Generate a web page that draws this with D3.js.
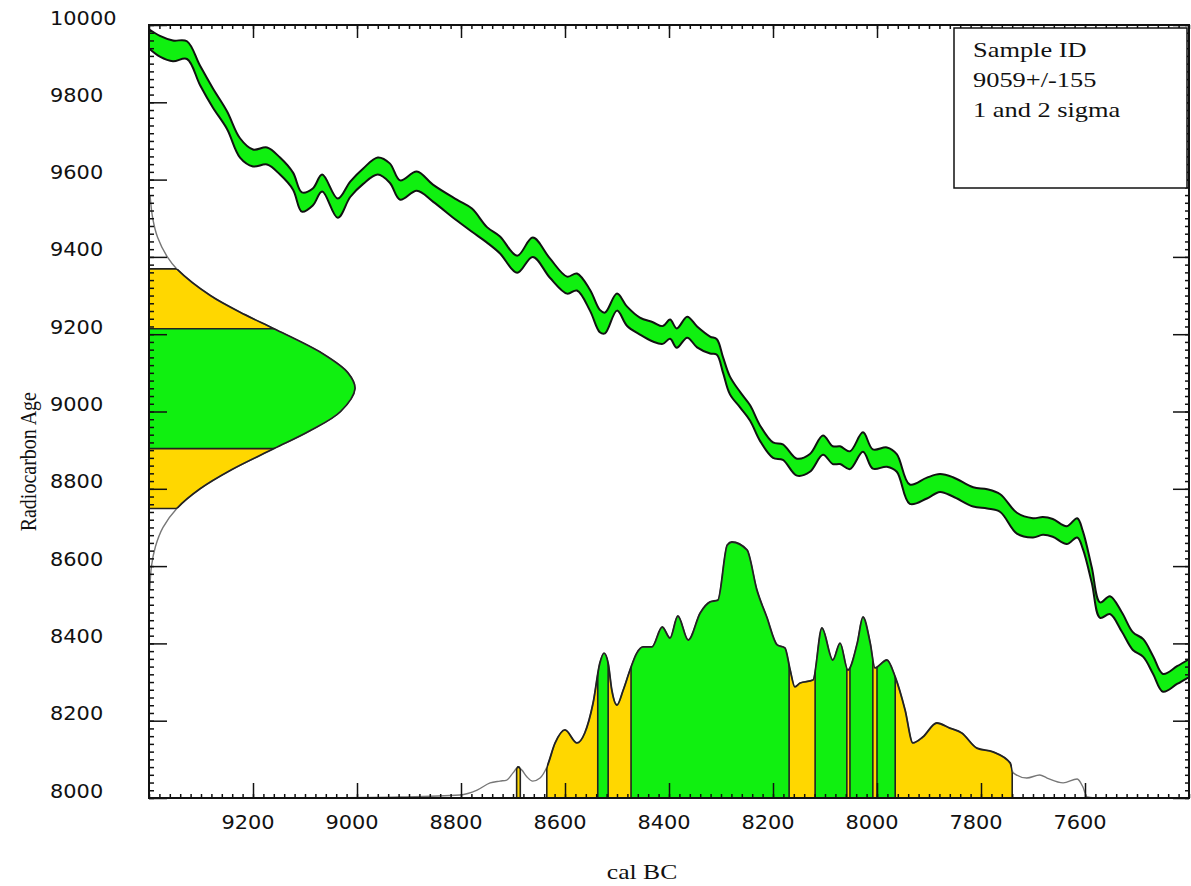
<!DOCTYPE html>
<html>
<head>
<meta charset="utf-8">
<script src="https://cdn.jsdelivr.net/npm/d3@7"></script>
<style>
  body { margin: 0; background: #fff; }
  .tick text { font-family: "DejaVu Sans", sans-serif; font-size: 19px; fill: #111; }
  .serif { font-family: "Liberation Serif", "Times New Roman", serif; fill: #111; }
</style>
</head>
<body>
<div class="chart"></div>
<script>
// calibration curve: cal BC, radiocarbon age, 1 sigma
const curveCal = [9400, 9379, 9354, 9327, 9302, 9277, 9250, 9225, 9200, 9173, 9148, 9123, 9106, 9085, 9067, 9037, 9013, 8988, 8960, 8937,
  8917, 8885, 8854, 8808, 8779, 8750, 8725, 8692, 8662, 8629, 8596, 8577, 8552, 8533, 8523, 8500, 8481, 8456, 8431, 8412,
  8398, 8385, 8365, 8346, 8321, 8308, 8296, 8283, 8263, 8244, 8225, 8200, 8181, 8154, 8129, 8104, 8085, 8071, 8052, 8027,
  8008, 7981, 7962, 7937, 7904, 7879, 7854, 7815, 7788, 7763, 7731, 7700, 7681, 7662, 7635, 7615, 7604, 7587, 7571, 7552,
  7529, 7508, 7488, 7469, 7450, 7423, 7400];
const curveAge = [9964, 9945, 9933, 9935, 9870, 9811, 9754, 9682, 9656, 9661, 9635, 9596, 9542, 9555, 9591, 9526, 9575, 9609, 9635, 9617,
  9573, 9596, 9565, 9521, 9495, 9457, 9431, 9381, 9425, 9371, 9327, 9335, 9288, 9234, 9229, 9283, 9247, 9221, 9206, 9198,
  9213, 9190, 9218, 9193, 9172, 9167, 9120, 9068, 9030, 8996, 8944, 8900, 8895, 8856, 8867, 8913, 8887, 8887, 8874, 8921,
  8877, 8882, 8867, 8786, 8802, 8815, 8805, 8779, 8774, 8763, 8711, 8699, 8704, 8699, 8680, 8699, 8667, 8577, 8486, 8499,
  8455, 8406, 8388, 8344, 8298, 8318, 8336];
const curveSig = [25, 27, 27, 23, 25, 25, 23, 25, 22, 22, 22, 22, 25, 22, 22, 25, 20, 20, 22, 25,
  25, 25, 22, 27, 30, 20, 22, 22, 25, 25, 22, 22, 27, 29, 27, 22, 25, 22, 25, 23,
  25, 25, 27, 27, 22, 20, 20, 23, 20, 20, 20, 20, 20, 22, 23, 25, 23, 23, 23, 25,
  25, 25, 23, 25, 27, 23, 25, 25, 25, 23, 27, 25, 23, 23, 23, 25, 23, 20, 20, 23,
  25, 23, 23, 23, 23, 23, 23];

// measured date 9059 +/- 155, relative density by radiocarbon age
const dateAges = [8540, 8600, 8650, 8700, 8749, 8800, 8850, 8904, 8950, 9000, 9059, 9100, 9150, 9214, 9250, 9300, 9369, 9400, 9450, 9500, 9560];
const dateDens = [0.004, 0.012, 0.031, 0.068, 0.135, 0.248, 0.403, 0.607, 0.781, 0.93, 1.0, 0.966, 0.842, 0.607, 0.468, 0.298, 0.135, 0.089, 0.042, 0.018, 0.005];
const dateOne = [[9214, 8904]];
const dateTwo = [[9369, 8749]];

// calibrated probability, relative
const calYears = [9110, 8917, 8802, 8769, 8744, 8725, 8712, 8700, 8690, 8683, 8673, 8662, 8648, 8635, 8619, 8600, 8577, 8562, 8546, 8533,
  8525, 8517, 8510, 8500, 8488, 8475, 8462, 8450, 8433, 8413, 8398, 8383, 8363, 8340, 8321, 8306, 8288, 8279, 8250, 8231,
  8212, 8192, 8177, 8167, 8158, 8148, 8123, 8106, 8085, 8071, 8056, 8038, 8027, 8013, 8004, 7981, 7965, 7946, 7931, 7912,
  7885, 7860, 7837, 7808, 7777, 7744, 7738, 7712, 7687, 7673, 7642, 7615, 7604, 7596, 7581];
const calProb = [0, 0.004, 0.012, 0.031, 0.059, 0.066, 0.070, 0.098, 0.121, 0.109, 0.082, 0.066, 0.078, 0.12, 0.215, 0.266, 0.215, 0.254, 0.371, 0.527,
  0.566, 0.527, 0.422, 0.363, 0.422, 0.5, 0.566, 0.59, 0.59, 0.668, 0.625, 0.711, 0.617, 0.723, 0.766, 0.773, 0.988, 1.0, 0.969, 0.813,
  0.707, 0.598, 0.586, 0.5, 0.434, 0.449, 0.461, 0.664, 0.539, 0.605, 0.5, 0.605, 0.707, 0.605, 0.508, 0.539, 0.473, 0.344, 0.215, 0.238,
  0.293, 0.273, 0.254, 0.195, 0.18, 0.137, 0.098, 0.078, 0.09, 0.078, 0.059, 0.074, 0.043, 0.004, 0];
const oneSigma = [[8537, 8517], [8473, 8169], [8119, 8058], [8052, 8008], [8000, 7965]];
const twoSigma = [[8693, 8686], [8635, 7740]];

const xTicks = [9200, 9000, 8800, 8600, 8400, 8200, 8000, 7800, 7600];
const yTicks = [8000, 8200, 8400, 8600, 8800, 9000, 9200, 9400, 9600, 9800, 10000];
const legendLines = ["Sample ID", "9059+/-155", "1 and 2 sigma"];

const GREEN = "#10f010", YELLOW = "#ffd700";

// svg with margin convention
const margin = { top: 25, right: 2, bottom: 88, left: 149 };
const width = 1191 - margin.left - margin.right,
    height = 886 - margin.top - margin.bottom;

const root = d3.select(".chart").append("svg")
    .attr("width", 1191)
    .attr("height", 886);
const svg = root.append("g")
    .attr("transform", `translate(${margin.left}, ${margin.top})`);
const defs = root.append("defs");

const x = d3.scaleLinear().domain([9400, 7400]).range([0, width]);
const y = d3.scaleLinear().domain([8000, 10000]).range([height, 0]);
const gx = d3.scaleLinear().domain([0, 1]).range([0, 206]);          // date density
const py = d3.scaleLinear().domain([0, 1]).range([height, height - 256]); // calibrated prob

// CALIBRATION CURVE -------------------------------------
const band = curveCal.map((c, i) => ({ cal: c, age: curveAge[i], sig: curveSig[i] }));
svg.append("path")
    .datum(band)
    .attr("d", d3.area()
        .x(d => x(d.cal))
        .y0(d => y(d.age - d.sig))
        .y1(d => y(d.age + d.sig))
        .curve(d3.curveCatmullRom))
    .attr("fill", GREEN)
    .attr("stroke", "#111")
    .attr("stroke-width", 2);

// MEASURED DATE (on y axis) -----------------------------
const dens = dateAges.map((a, i) => ({ age: a, p: dateDens[i] }));
const densArea = d3.area()
    .y(d => y(d.age))
    .x0(gx(0))
    .x1(d => gx(d.p))
    .curve(d3.curveCatmullRom);
const densLine = d3.line()
    .y(d => y(d.age))
    .x(d => gx(d.p))
    .curve(d3.curveCatmullRom);

defs.append("clipPath").attr("id", "clip-dens")
    .append("path").attr("d", densArea(dens));

function hClip(id, ranges) {
    const cp = defs.append("clipPath").attr("id", id);
    ranges.forEach(r => cp.append("rect")
        .attr("x", 0).attr("width", width)
        .attr("y", y(r[0])).attr("height", y(r[1]) - y(r[0])));
}
hClip("clip-d2", dateTwo);
hClip("clip-d1", dateOne);

svg.append("path").attr("d", densArea(dens)).attr("fill", YELLOW).attr("clip-path", "url(#clip-d2)");
svg.append("path").attr("d", densArea(dens)).attr("fill", GREEN).attr("clip-path", "url(#clip-d1)");
svg.append("path").attr("d", densLine(dens)).attr("fill", "none").attr("stroke", "#777").attr("stroke-width", 1.4);
svg.append("path").attr("d", densLine(dens)).attr("fill", "none").attr("stroke", "#222").attr("stroke-width", 1.7)
    .attr("clip-path", "url(#clip-d2)");
svg.append("g").attr("clip-path", "url(#clip-dens)")
    .selectAll("line")
    .data(dateOne.concat(dateTwo).flat())
    .join("line")
    .attr("x1", 0).attr("x2", width)
    .attr("y1", d => y(d)).attr("y2", d => y(d))
    .attr("stroke", "#222").attr("stroke-width", 1.6);

// CALIBRATED DISTRIBUTION (on x axis) -------------------
const prob = calYears.map((c, i) => ({ cal: c, p: calProb[i] }));
const probArea = d3.area()
    .x(d => x(d.cal))
    .y0(py(0))
    .y1(d => py(d.p))
    .curve(d3.curveMonotoneX);
const probLine = d3.line()
    .x(d => x(d.cal))
    .y(d => py(d.p))
    .curve(d3.curveMonotoneX);

defs.append("clipPath").attr("id", "clip-prob")
    .append("path").attr("d", probArea(prob));

function vClip(id, ranges) {
    const cp = defs.append("clipPath").attr("id", id);
    ranges.forEach(r => cp.append("rect")
        .attr("y", 0).attr("height", height)
        .attr("x", x(r[0])).attr("width", x(r[1]) - x(r[0])));
}
vClip("clip-c2", twoSigma);
vClip("clip-c1", oneSigma);

svg.append("path").attr("d", probArea(prob)).attr("fill", YELLOW).attr("clip-path", "url(#clip-c2)");
svg.append("path").attr("d", probArea(prob)).attr("fill", GREEN).attr("clip-path", "url(#clip-c1)");
svg.append("path").attr("d", probLine(prob)).attr("fill", "none").attr("stroke", "#777").attr("stroke-width", 1.4);
svg.append("path").attr("d", probLine(prob)).attr("fill", "none").attr("stroke", "#222").attr("stroke-width", 1.8)
    .attr("clip-path", "url(#clip-c2)");
svg.append("g").attr("clip-path", "url(#clip-prob)")
    .selectAll("line")
    .data(oneSigma.concat(twoSigma).flat())
    .join("line")
    .attr("y1", 0).attr("y2", height)
    .attr("x1", d => x(d)).attr("x2", d => x(d))
    .attr("stroke", "#222").attr("stroke-width", 1.6);

// AXES ---------------------------------------------------
const minorX = d3.range(7400, 9401, 20);
const minorY = d3.range(8000, 10001, 20);

function axisGroup(axis, tx, ty) {
    const g = svg.append("g").attr("transform", `translate(${tx}, ${ty})`).call(axis);
    g.select(".domain").remove();
    g.selectAll(".tick line").attr("stroke", "#111").attr("stroke-width", 1.5);
    return g;
}

// bottom
axisGroup(d3.axisBottom(x).tickValues(minorX).tickSize(-4).tickFormat(""), 0, height);
const xAxis = axisGroup(d3.axisBottom(x).tickValues(xTicks).tickSize(-15).tickPadding(18).tickFormat(d3.format("d")), 0, height);
xAxis.selectAll("text").attr("x", -5).attr("transform", "scale(1.1,1)");
// top
axisGroup(d3.axisTop(x).tickValues(minorX).tickSize(-4).tickFormat(""), 0, 0);
axisGroup(d3.axisTop(x).tickValues(xTicks).tickSize(-13).tickFormat(""), 0, 0);
// left: labels are left aligned at x = 50
axisGroup(d3.axisLeft(y).tickValues(minorY).tickSize(-5).tickFormat(""), 0, 0);
const yAxis = axisGroup(d3.axisLeft(y).tickValues(yTicks).tickSize(-18).tickFormat(d3.format("d")), 0, 0);
yAxis.selectAll("text")
    .attr("text-anchor", "start")
    .attr("x", -90)
    .attr("dy", "-0.05em")
    .attr("transform", "scale(1.1,1)");
// right
axisGroup(d3.axisRight(y).tickValues(minorY).tickSize(-4).tickFormat(""), width, 0);
axisGroup(d3.axisRight(y).tickValues(yTicks).tickSize(-16).tickFormat(""), width, 0);

// frame
svg.append("rect")
    .attr("width", width).attr("height", height)
    .attr("fill", "none").attr("stroke", "#111").attr("stroke-width", 2);

// axis titles
svg.append("text")
    .attr("class", "serif")
    .attr("text-anchor", "middle")
    .attr("font-size", 21)
    .attr("transform", `translate(${x(8000) - 235}, ${height + 81}) scale(1.22,1)`)
    .text("cal BC");

svg.append("text")
    .attr("class", "serif")
    .attr("text-anchor", "middle")
    .attr("font-size", 20)
    .attr("transform", `translate(-113, ${y(9059) + 73}) rotate(-90) scale(1,1.2)`)
    .text("Radiocarbon Age");

// LEGEND ------------------------------------------------
const legend = svg.append("g").attr("transform", `translate(${width - 235}, 3)`);
legend.append("rect")
    .attr("width", 233).attr("height", 160)
    .attr("fill", "#fff").attr("stroke", "#111").attr("stroke-width", 1.5);
legend.selectAll("text")
    .data(legendLines)
    .join("text")
    .attr("class", "serif")
    .attr("font-size", 22)
    .attr("transform", (d, i) => `translate(19, ${29 + i * 30}) scale(1.2,1)`)
    .text(d => d);
</script>
</body>
</html>
